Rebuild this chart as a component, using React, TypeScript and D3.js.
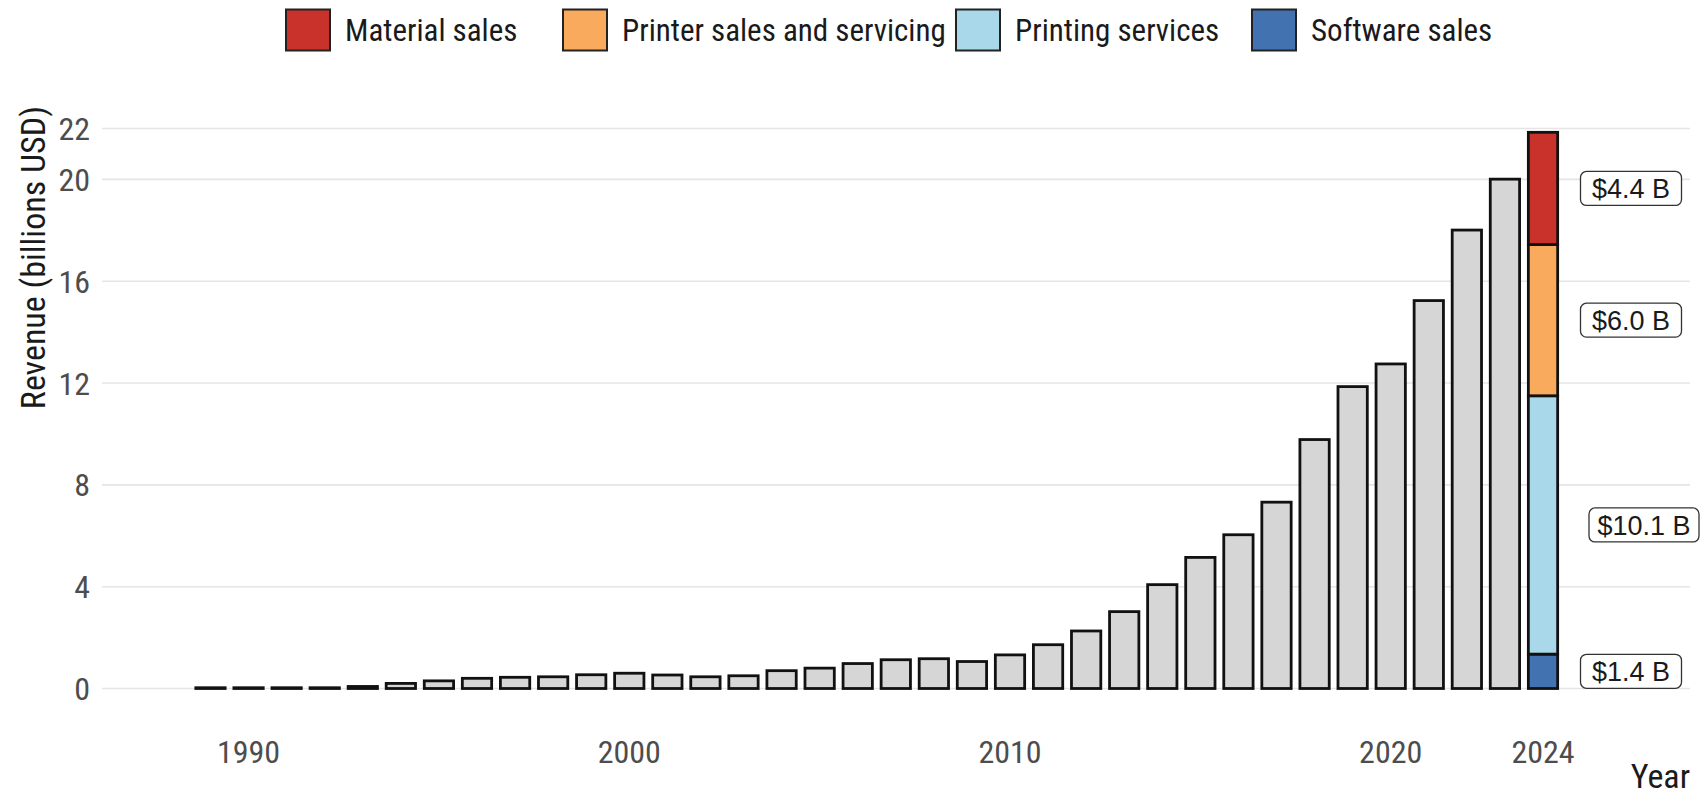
import React from "react";
import * as d3 from "d3";

// ---------- data ----------
const years = [
  1989, 1990, 1991, 1992, 1993, 1994, 1995, 1996, 1997, 1998, 1999, 2000,
  2001, 2002, 2003, 2004, 2005, 2006, 2007, 2008, 2009, 2010, 2011, 2012,
  2013, 2014, 2015, 2016, 2017, 2018, 2019, 2020, 2021, 2022, 2023,
];
const totals = [
  0.03, 0.03, 0.03, 0.03, 0.08, 0.2, 0.3, 0.4, 0.44, 0.46, 0.54, 0.6,
  0.53, 0.46, 0.5, 0.7, 0.8, 0.98, 1.13, 1.17, 1.06, 1.32, 1.72, 2.26,
  3.02, 4.08, 5.15, 6.04, 7.32, 9.78, 11.86, 12.75, 15.24, 18.01, 20.01,
];
const stackYear = 2024;
const segmentNames = ["Software sales", "Printing services", "Printer sales and servicing", "Material sales"];
const segmentValues = [1.35, 10.15, 5.94, 4.41];
const segmentLabels = ["$1.4 B", "$10.1 B", "$6.0 B", "$4.4 B"];
const segmentColors = ["#4272b0", "#a9d8ea", "#f9aa5c", "#c9322a"];
const legendOrder = ["Material sales", "Printer sales and servicing", "Printing services", "Software sales"];
const yTicks = [0, 4, 8, 12, 16, 20, 22];
const xTicks = [1990, 2000, 2010, 2020, 2024];

// ---------- layout ----------
const W = 1704;
const H = 797;
const panelLeft = 102;
const panelRight = 1690;
const narrow = "'Liberation Sans Narrow', 'Arial Narrow', 'Roboto Condensed', sans-serif";
const regular = "'Liberation Sans', Arial, sans-serif";

export default function App() {
  const x = d3.scaleLinear().domain([1989, 2024]).range([210.5, 1543]);
  const y = d3.scaleLinear().domain([0, 22]).range([688.5, 128.5]);
  const step = x(1990) - x(1989);
  const bw = step * 0.77;

  const stack = d3.stack<number[]>().keys(segmentNames.map((_, i) => String(i)))
    .value((d, k) => d[+k])([segmentValues]);

  const colorOf = d3.scaleOrdinal<string, string>().domain(segmentNames).range(segmentColors);
  const legendX = [286, 563, 956, 1252];

  return (
    <svg width={W} height={H} style={{ position: "absolute", left: 0, top: 0, background: "#fff" }}>
      <rect x={0} y={0} width={W} height={H} fill="#fff" />
      {/* gridlines */}
      {yTicks.map((t) => (
        <line key={t} x1={panelLeft} x2={panelRight} y1={y(t)} y2={y(t)} stroke="#e5e5e5" strokeWidth={1.6} />
      ))}
      {/* y tick labels */}
      {yTicks.map((t) => (
        <text key={t} x={90} y={y(t)} dy="0.36em" textAnchor="end" fontFamily={narrow} fontSize={32} fill="#4d4d4d">
          {t}
        </text>
      ))}
      {/* y title */}
      <text transform={`translate(45,106) rotate(-90)`} textAnchor="end" fontFamily={narrow} fontSize={34} fill="#1a1a1a">
        Revenue (billions USD)
      </text>
      {/* x tick labels */}
      {xTicks.map((t) => (
        <text key={t} x={x(t)} y={763} textAnchor="middle" fontFamily={narrow} fontSize={32} fill="#4d4d4d">
          {t}
        </text>
      ))}
      <text x={panelRight} y={788} textAnchor="end" fontFamily={narrow} fontSize={34} fill="#1a1a1a">
        Year
      </text>
      {/* grey bars */}
      {years.map((yr, i) => (
        <rect
          key={yr}
          x={x(yr) - bw / 2}
          y={y(totals[i])}
          width={bw}
          height={y(0) - y(totals[i])}
          fill="#d6d6d6"
          stroke="#111"
          strokeWidth={2.8}
        />
      ))}
      {/* stacked bar */}
      {stack.map((s, i) => (
        <rect
          key={i}
          x={x(stackYear) - bw / 2}
          y={y(s[0][1])}
          width={bw}
          height={y(s[0][0]) - y(s[0][1])}
          fill={segmentColors[i]}
          stroke="#111"
          strokeWidth={2.8}
        />
      ))}
      {/* segment labels */}
      {stack.map((s, i) => {
        const mid = (s[0][0] + s[0][1]) / 2;
        const txt = segmentLabels[i];
        const wide = txt.length > 6;
        const boxW = wide ? 110 : 101;
        const cx = x(stackYear) + (wide ? 101 : 88);
        return (
          <g key={i}>
            <rect x={cx - boxW / 2} y={y(mid) - 17} width={boxW} height={34} rx={6} fill="#fff" stroke="#333" strokeWidth={1.3} />
            <text x={cx} y={y(mid)} dy="0.36em" textAnchor="middle" fontFamily={regular} fontSize={27} fill="#1a1a1a">
              {txt}
            </text>
          </g>
        );
      })}
      {/* legend */}
      {legendOrder.map((name, i) => (
        <g key={name}>
          <rect x={legendX[i]} y={9.5} width={44} height={41} fill={colorOf(name)} stroke="#222" strokeWidth={2} />
          <text x={legendX[i] + 59} y={30} dy="0.36em" fontFamily={narrow} fontSize={31} fill="#1a1a1a">
            {name}
          </text>
        </g>
      ))}
    </svg>
  );
}
